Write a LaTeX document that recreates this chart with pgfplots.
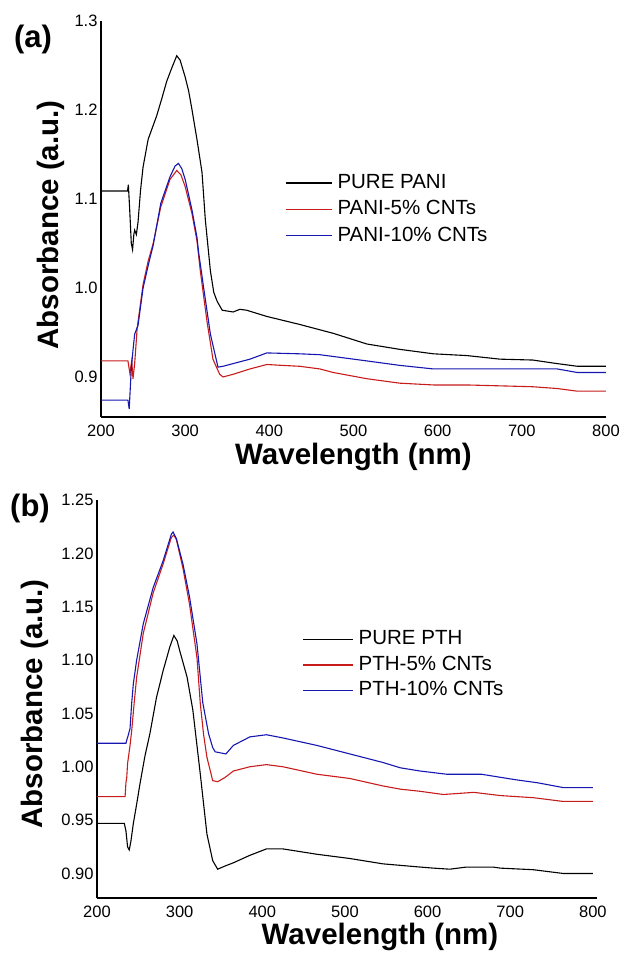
\documentclass[border=0pt]{standalone}
\usepackage{pgfplots}
\pgfplotsset{compat=1.18}
\usepackage{fontspec}
\setmainfont{Liberation Sans}
\definecolor{cred}{RGB}{200,28,28}
\definecolor{cblue}{RGB}{22,22,176}
\pgfplotsset{
  myaxis/.style={
    scale only axis,
    anchor=south west,
    axis x line*=bottom, axis y line*=left,
    x axis line style={-, line width=1.4pt},
    y axis line style={-, line width=1.4pt},
    major tick length=0pt,
    /pgf/number format/assume math mode=true,
    tick label style={font=\fontsize{16.5}{17}\selectfont},
    xtick={200,300,400,500,600,700,800},
    xmin=200,
    xticklabel style={/pgf/number format/1000 sep={}, yshift=-4pt},
    label style={font=\bfseries\fontsize{29.5}{30}\selectfont},
    every axis plot/.append style={line width=1.1pt, mark=none},
    legend image code/.code={\draw[#1, line width=1.5pt] (0pt,0pt) -- (46pt,0pt);},
    legend cell align=left,
  }
}
\begin{document}
\begin{tikzpicture}
\useasboundingbox (0,0) rectangle (622pt,954pt);
% ---------- (a) ----------
\begin{axis}[myaxis,
  at={(101pt,537pt)}, width=505pt, height=396pt,
  xmax=800, ymin=0.855, ymax=1.3,
  ytick={0.9,1.0,1.1,1.2,1.3},
  yticklabel style={/pgf/number format/.cd, fixed, fixed zerofill, precision=1},
  xlabel={Wavelength (nm)}, ylabel={Absorbance (a.u.)},
  xlabel style={at={(axis description cs:0.5,-0.121)}, anchor=base},
  ylabel style={at={(axis description cs:-0.099,0.485)}, anchor=center},
  legend style={draw=none, fill=none, at={(axis description cs:0.364,0.623)}, anchor=north west,
    font=\fontsize{20.5}{22}\selectfont, inner sep=0pt, row sep=1.3pt, column sep=5pt,
    nodes={inner xsep=0pt, inner ysep=3pt, text height=15pt, text depth=4pt}},
]
\addplot[black] coordinates {(200,1.109)(231.5,1.109)(232.5,1.116)(234,1.09)(236,1.05)(237.5,1.043)(239,1.06)(240,1.065)(242,1.06)(244,1.074)(247,1.11)(250,1.136)(256,1.167)(266,1.193)(272,1.212)(278,1.232)(284,1.247)(290,1.261)(294,1.256)(300,1.237)(304,1.222)(308,1.201)(314,1.167)(320,1.13)(324,1.076)(330,1.019)(334,0.995)(338,0.985)(344,0.975)(357,0.973)(365,0.976)(373,0.975)(397,0.968)(436,0.959)(460,0.953)(476,0.949)(516,0.937)(555,0.931)(595,0.926)(635,0.924)(674,0.920)(713,0.919)(742,0.915)(766,0.912)(800,0.912)};
\addlegendentry{PURE PANI}
\addplot[cred] coordinates {(200,0.918)(232,0.918)(233,0.912)(234.5,0.903)(235.5,0.912)(236.5,0.918)(238,0.898)(240,0.915)(243,0.955)(250,1.004)(256,1.03)(262,1.05)(271,1.091)(282,1.122)(290,1.132)(295,1.127)(300,1.114)(308,1.084)(314,1.053)(318,1.019)(326,0.962)(333,0.920)(341,0.903)(345,0.900)(357,0.903)(377,0.909)(397,0.914)(415,0.913)(436,0.912)(460,0.909)(476,0.905)(516,0.898)(555,0.893)(595,0.891)(635,0.891)(674,0.890)(713,0.889)(742,0.887)(766,0.884)(800,0.884)};
\addlegendentry{PANI-5\% CNTs}
\addplot[cblue] coordinates {(200,0.874)(232,0.874)(233.5,0.864)(236,0.909)(238,0.93)(240,0.948)(244,0.958)(250,1.0)(256,1.025)(262,1.048)(271,1.095)(282,1.125)(288,1.137)(292,1.140)(296,1.134)(300,1.122)(308,1.088)(314,1.057)(316,1.04)(322,1.0)(330,0.948)(339,0.911)(345,0.912)(357,0.915)(377,0.920)(397,0.927)(436,0.926)(460,0.925)(476,0.923)(516,0.918)(555,0.913)(595,0.909)(674,0.909)(742,0.909)(766,0.905)(800,0.905)};
\addlegendentry{PANI-10\% CNTs}
\end{axis}
% ---------- (b) ----------
\begin{axis}[myaxis,
  at={(97pt,56pt)}, width=500pt, height=398pt,
  xmax=805, ymin=0.877, ymax=1.25,
  ytick={0.90,0.95,1.00,1.05,1.10,1.15,1.20,1.25},
  yticklabel style={/pgf/number format/.cd, fixed, fixed zerofill, precision=2},
  xlabel={Wavelength (nm)}, ylabel={Absorbance (a.u.)},
  xlabel style={at={(axis description cs:0.566,-0.118)}, anchor=base},
  ylabel style={at={(axis description cs:-0.124,0.488)}, anchor=center},
  legend style={draw=none, fill=none, at={(axis description cs:0.41,0.682)}, anchor=north west,
    font=\fontsize{20.5}{22}\selectfont, inner sep=0pt, row sep=0.5pt, column sep=5pt,
    nodes={inner xsep=0pt, inner ysep=3pt, text height=15pt, text depth=4pt}},
  legend image code/.code={\draw[#1, line width=1.5pt] (0pt,0pt) -- (50pt,0pt);},
]
\addplot[black] coordinates {(200,0.947)(233,0.947)(235,0.94)(237,0.925)(239,0.922)(241,0.93)(244,0.947)(248,0.965)(252,0.984)(258,1.01)(264,1.031)(272,1.065)(280,1.090)(288,1.112)(293,1.123)(297,1.118)(300,1.109)(309,1.084)(316,1.053)(325,0.993)(333,0.937)(340,0.912)(346,0.904)(355,0.907)(365,0.910)(385,0.917)(405,0.923)(425,0.923)(466,0.918)(506,0.914)(546,0.909)(591,0.906)(607,0.905)(627,0.904)(647,0.906)(679,0.906)(688,0.905)(728,0.9035)(764,0.900)(800,0.900)};
\addlegendentry{PURE PTH}
\addplot[cred] coordinates {(200,0.972)(234,0.972)(235,0.985)(236,0.99)(237,1.003)(240,1.02)(242,1.034)(245,1.06)(248,1.084)(256,1.125)(268,1.163)(280,1.190)(290,1.215)(293,1.217)(296,1.213)(304,1.186)(312,1.152)(321,1.102)(325,1.059)(329,1.03)(333,1.009)(340,0.987)(346,0.986)(355,0.99)(365,0.996)(385,1.0)(405,1.002)(425,1.0)(466,0.993)(506,0.989)(546,0.982)(567,0.979)(591,0.977)(619,0.974)(656,0.976)(688,0.973)(728,0.971)(764,0.9675)(800,0.9675)};
\addlegendentry{PTH-5\% CNTs}
\addplot[cblue] coordinates {(200,1.022)(235,1.022)(236,1.025)(238,1.03)(240,1.036)(242,1.06)(244,1.078)(248,1.1)(256,1.134)(268,1.168)(280,1.193)(290,1.218)(292,1.22)(296,1.214)(304,1.190)(312,1.159)(321,1.115)(328,1.06)(335,1.031)(340,1.018)(343,1.014)(356,1.012)(365,1.020)(385,1.028)(405,1.030)(425,1.027)(466,1.020)(506,1.012)(546,1.004)(567,0.999)(591,0.996)(623,0.993)(665,0.993)(705,0.988)(733,0.985)(764,0.9805)(800,0.9805)};
\addlegendentry{PTH-10\% CNTs}
\end{axis}
\node[font=\bfseries\fontsize{31}{32}\selectfont] at (33pt,915pt) {(a)};
\node[font=\bfseries\fontsize{31}{32}\selectfont] at (30pt,446pt) {(b)};
\end{tikzpicture}
\end{document}
